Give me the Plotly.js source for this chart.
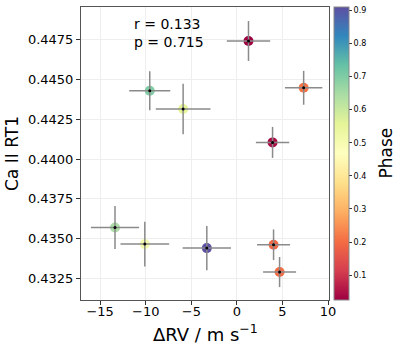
<!DOCTYPE html>
<html>
<head>
<meta charset="utf-8">
<script src="https://cdn.plot.ly/plotly-3.0.1.min.js"></script>
<style>
  html, body { margin: 0; padding: 0; background: #fff; }
  #chart { width: 399px; height: 349px; }
</style>
</head>
<body>
<div id="chart"></div>
<script>
// values
const deltaRV = [1.27, -9.56, -5.9, 3.91, 7.32, -13.37, -10.1, -3.3, 4.02, 4.68];
const rvErr = [2.38, 2.25, 3.0, 1.83, 2.05, 2.64, 2.67, 2.65, 1.81, 1.81];
const caRT1 = [0.44739, 0.44427, 0.44313, 0.44104, 0.44446, 0.43571, 0.43467, 0.43442, 0.43463, 0.43292];
const caErr = [0.00125, 0.00122, 0.00158, 0.00097, 0.00106, 0.00135, 0.0014, 0.00138, 0.00096, 0.00094];
const phase = [0.025, 0.70, 0.556, 0.04, 0.21, 0.645, 0.51, 0.91, 0.19, 0.2];
const corrR = "0.133";
const corrP = "0.715";

// matplotlib Spectral
const spectral = [
  "#9e0142", "#d53e4f", "#f46d43", "#fdae61", "#fee08b", "#ffffbf",
  "#e6f598", "#abdda4", "#66c2a5", "#3288bd", "#5e4fa2"
];
let colorscale = [];
for (let i = 0; i < spectral.length; i++) {
  colorscale.push([i / (spectral.length - 1), spectral[i]]);
}

let font = "DejaVu Sans, sans-serif";

let colored = {
  type: "scatter",
  x: deltaRV,
  y: caRT1,
  mode: "markers",
  showlegend: false,
  marker: {
    size: 10,
    color: phase,
    colorscale: colorscale,
    cmin: 0.025,
    cmax: 0.91,
    line: { width: 0 },
    colorbar: {
      x: 1.02,
      xanchor: "left",
      xpad: 0,
      ypad: 0,
      y: 0.5,
      len: 1,
      thickness: 15,
      outlinecolor: "#888",
      outlinewidth: 1,
      tickvals: [0.1, 0.2, 0.3, 0.4, 0.5, 0.6, 0.7, 0.8, 0.9],
      ticks: "outside",
      ticklen: 3,
      tickcolor: "#333",
      tickfont: { family: font, size: 8, color: "#000" },
    },
  },
};

let bars = {
  type: "scatter",
  x: deltaRV,
  y: caRT1,
  mode: "markers",
  showlegend: false,
  marker: { size: 3, color: "black" },
  error_x: { type: "data", array: rvErr, color: "#8a8a8a", thickness: 1.5, width: 0 },
  error_y: { type: "data", array: caErr, color: "#8a8a8a", thickness: 1.5, width: 0 },
};

let layout = {
  width: 399,
  height: 349,
  margin: { l: 81, r: 70, t: 7, b: 49 },
  paper_bgcolor: "#fff",
  plot_bgcolor: "#fff",
  font: { family: font, color: "#000" },
  xaxis: {
    range: [-17.1, 10.1],
    tickvals: [-15, -10, -5, 0, 5, 10],
    ticktext: ["\u221215", "\u221210", "\u22125", "0", "5", "10"],
    ticks: "outside",
    ticklen: 4,
    tickcolor: "#333",
    tickfont: { size: 13 },
    ticklabelstandoff: -5,
    showgrid: true,
    gridcolor: "#eeeeee",
    zeroline: false,
    showline: true,
    linecolor: "#555",
    mirror: true,
  },
  yaxis: {
    range: [0.43117, 0.44952],
    tickvals: [0.4325, 0.435, 0.4375, 0.44, 0.4425, 0.445, 0.4475],
    ticktext: ["0.4325", "0.4350", "0.4375", "0.4400", "0.4425", "0.4450", "0.4475"],
    ticks: "outside",
    ticklen: 4,
    tickcolor: "#333",
    tickfont: { size: 13 },
    showgrid: true,
    gridcolor: "#eeeeee",
    zeroline: false,
    showline: true,
    linecolor: "#555",
    mirror: true,
    title: { text: "Ca II RT1", font: { size: 17 }, standoff: 4 },
  },
  annotations: [
    {
      xref: "paper",
      yref: "paper",
      x: 0.204,
      y: 0.975,
      xanchor: "left",
      yanchor: "top",
      align: "left",
      showarrow: false,
      text: "r = " + corrR + "<br>p = " + corrP,
      font: { size: 14 },
    },
    {
      xref: "paper",
      yref: "paper",
      x: 0.5,
      y: -0.112,
      xanchor: "center",
      yanchor: "middle",
      showarrow: false,
      text: "\u0394RV / m s<sup>\u22121</sup>",
      font: { size: 18 },
    },
    {
      xref: "paper",
      yref: "paper",
      x: 1.226,
      y: 0.5,
      xanchor: "center",
      yanchor: "middle",
      textangle: -90,
      showarrow: false,
      text: "Phase",
      font: { size: 17 },
    },
  ],
};

Plotly.newPlot("chart", [colored, bars], layout, { displayModeBar: false, staticPlot: true });
</script>
</body>
</html>
